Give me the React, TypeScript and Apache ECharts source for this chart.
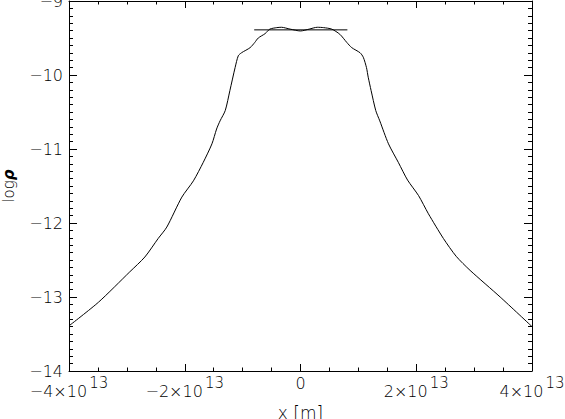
import React, { useEffect, useRef } from "react";
import * as echarts from "echarts";

// x positions in units of 1e13 m, log rho values
const profileX: number[] = [
  -4.0, -3.49, -2.95, -2.69, -2.46, -2.31, -2.05, -1.85, -1.68, -1.53, -1.45, -1.39, -1.3, -1.22, -1.13, -1.075, -1.02,
  -0.87, -0.79, -0.73, -0.61, -0.53, -0.41, -0.33, -0.18, 0.0, 0.15, 0.29, 0.4, 0.54, 0.68, 0.8, 0.885, 1.03, 1.085,
  1.14, 1.17, 1.22, 1.3, 1.37, 1.52, 1.69, 1.85, 2.04, 2.21, 2.47, 2.69, 2.93, 3.45, 4.0,
];
const profileLogRho: number[] = [
  -13.39, -13.07, -12.66, -12.46, -12.21, -12.055, -11.65, -11.43, -11.18, -10.93, -10.73, -10.62, -10.48, -10.21, -9.9,
  -9.74, -9.7, -9.63, -9.56, -9.5, -9.44, -9.38, -9.36, -9.355, -9.38, -9.405, -9.38, -9.355, -9.36, -9.38, -9.45,
  -9.56, -9.63, -9.7, -9.76, -9.9, -10.03, -10.21, -10.48, -10.62, -10.93, -11.18, -11.42, -11.63, -11.875, -12.21,
  -12.45, -12.64, -13.0, -13.4,
];
const flatX: number[] = [-0.8, 0.81];
const flatLogRho: number[] = [-9.39, -9.39];

const SCALE = 1e13;
const X_MIN = -4e13;
const X_MAX = 4e13;
const X_INTERVAL = 2e13;
const Y_MIN = -14;
const Y_MAX = -9;

const FONT = "'DejaVu Sans', 'Liberation Sans', sans-serif";
const INK = "#000";
const W = 200;

function xLabel(v: number): string {
  if (Math.abs(v) < 1) return "{a|0}";
  const m = Math.round(v / SCALE);
  const s = m < 0 ? "\u2212" + Math.abs(m) : String(m);
  return "{a|" + s + "×10}{s|13}";
}

function yLabel(v: number): string {
  return v < 0 ? "\u2212" + Math.abs(v) : String(v);
}

export default function App() {
  const ref = useRef<HTMLDivElement>(null);
  useEffect(() => {
    if (!ref.current) return;
    const chart = echarts.init(ref.current, undefined, { renderer: "svg" });
    const profile = profileX.map((x, i) => [x * SCALE, profileLogRho[i]]);
    const flat = flatX.map((x, i) => [x * SCALE, flatLogRho[i]]);
    const commonX = {
      type: "value" as const,
      min: X_MIN,
      max: X_MAX,
      interval: X_INTERVAL,
      splitLine: { show: false },
      axisLine: { show: true, onZero: false, lineStyle: { color: "#000", width: 1 } },
      axisTick: { show: true, inside: true, length: 7, lineStyle: { color: "#000" } },
      minorTick: { show: true, splitNumber: 4, length: 3.5, lineStyle: { color: "#000" } },
      minorSplitLine: { show: false },
    };
    const commonY = {
      type: "value" as const,
      min: Y_MIN,
      max: Y_MAX,
      interval: 1,
      splitLine: { show: false },
      axisLine: { show: true, onZero: false, lineStyle: { color: "#000", width: 1 } },
      axisTick: { show: true, inside: true, length: 8, lineStyle: { color: "#000" } },
      minorTick: { show: true, splitNumber: 10, length: 4, lineStyle: { color: "#000" } },
      minorSplitLine: { show: false },
    };
    chart.setOption({
      animation: false,
      backgroundColor: "#fff",
      grid: { left: 69, right: 33, top: 1, bottom: 48, containLabel: false, outerBoundsMode: "none" },
      xAxis: [
        {
          ...commonX,
          position: "bottom",
          name: "x [m]",
          nameLocation: "middle",
          nameGap: 31,
          nameTextStyle: { fontFamily: FONT, fontWeight: W, fontSize: 17, color: INK },
          axisLabel: {
            margin: 4,
            formatter: xLabel,
            rich: {
              a: { fontFamily: FONT, fontWeight: W, fontSize: 16, color: INK },
              s: { fontFamily: FONT, fontWeight: W, fontSize: 15, color: INK, padding: [0, 0, 18, 2] },
            },
          },
        },
        { ...commonX, position: "top", axisLabel: { show: false } },
      ],
      yAxis: [
        {
          ...commonY,
          position: "left",
          name: "{a|log}{b|ρ}",
          nameLocation: "middle",
          nameGap: 53,
          nameRotate: 90,
          nameTextStyle: {
            rich: {
              a: { fontFamily: FONT, fontWeight: W, fontSize: 15, color: INK },
              b: { fontFamily: FONT, fontSize: 15, color: INK, fontStyle: "italic", fontWeight: "bold" },
            },
          },
          axisLabel: { margin: 6, formatter: yLabel, fontFamily: FONT, fontWeight: W, fontSize: 16, color: INK },
        },
        { ...commonY, position: "right", axisLabel: { show: false } },
      ],
      series: [
        {
          type: "line",
          data: profile,
          showSymbol: false,
          smooth: 0.25,
          lineStyle: { color: "#000", width: 1 },
          xAxisIndex: 0,
          yAxisIndex: 0,
        },
        {
          type: "line",
          data: flat,
          showSymbol: false,
          lineStyle: { color: "#000", width: 1 },
          xAxisIndex: 0,
          yAxisIndex: 0,
        },
      ],
    });
    return () => chart.dispose();
  }, []);
  return (
    <div
      ref={ref}
      style={{ position: "absolute", left: 0, top: 0, width: 565, height: 419, background: "#fff" }}
    />
  );
}
